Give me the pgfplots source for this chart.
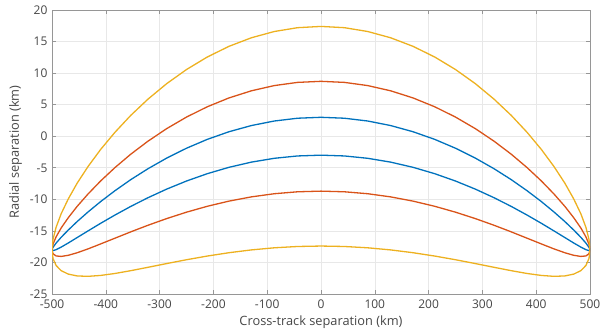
\documentclass[border=0pt]{standalone}
\usepackage{pgfplots}
\pgfplotsset{compat=1.18}
\usepackage{fontspec}
\setmainfont{Open Sans}
\definecolor{mblue}{rgb}{0,0.447,0.741}
\definecolor{morange}{rgb}{0.850,0.325,0.098}
\definecolor{myellow}{rgb}{0.929,0.694,0.125}
\definecolor{axgray}{RGB}{150,150,150}
\definecolor{gridgray}{RGB}{232,232,232}
\definecolor{txtgray}{RGB}{70,70,70}
\begin{document}
\begin{tikzpicture}
\begin{axis}[
  scale only axis,
  width=538pt, height=284pt,
  xmin=-500, xmax=500, ymin=-25, ymax=20,
  xtick={-500,-400,...,500},
  ytick={-25,-20,...,20},
  tick align=inside,
  major tick length=4pt,
  tick style={axgray, line width=0.6pt},
  axis line style={axgray, line width=0.8pt},
  grid=major,
  major grid style={gridgray, line width=0.6pt},
  /pgf/number format/assume math mode=true,
  tick label style={font=\fontsize{12}{14}\selectfont, text=txtgray},
  xticklabel style={yshift=-2pt},
  yticklabel style={xshift=-1pt},
  label style={font=\fontsize{12.8}{15}\selectfont, text=txtgray},
  xlabel={Cross-track separation (km)},
  ylabel={Radial separation (km)},
  xlabel style={yshift=-1pt},
  ylabel style={yshift=1pt},
  every axis plot/.append style={line width=1.3pt, line join=round},
]
\addplot[mblue] coordinates {
(-500,-18) (-498.1,-17.602) (-492.4,-16.936) (-483.0,-16.018) (-469.8,-14.868) (-453.2,-13.517) (-433.0,-12.0) (-409.6,-10.357) (-383.0,-8.635) (-353.6,-6.879) (-321.4,-5.139) (-286.8,-3.465) (-250,-1.902) (-211.3,-0.496) (-171.0,0.713) (-129.4,1.692) (-86.8,2.411) (-43.6,2.852) (0,3.0) (43.6,2.852) (86.8,2.411) (129.4,1.692) (171.0,0.713) (211.3,-0.496) (250,-1.902) (286.8,-3.465) (321.4,-5.139) (353.6,-6.879) (383.0,-8.635) (409.6,-10.357) (433.0,-12.0) (453.2,-13.517) (469.8,-14.868) (483.0,-16.018) (492.4,-16.936) (498.1,-17.602) (500,-18)
(498.1,-18.124) (492.4,-17.978) (483.0,-17.570) (469.8,-16.920) (453.2,-16.053) (433.0,-15.0) (409.6,-13.799) (383.0,-12.491) (353.6,-11.121) (321.4,-9.735) (286.8,-8.379) (250,-7.098) (211.3,-5.934) (171.0,-4.925) (129.4,-4.104) (86.8,-3.497) (43.6,-3.126) (0,-3.0) (-43.6,-3.126) (-86.8,-3.497) (-129.4,-4.104) (-171.0,-4.925) (-211.3,-5.934) (-250,-7.098) (-286.8,-8.379) (-321.4,-9.735) (-353.6,-11.121) (-383.0,-12.491) (-409.6,-13.799) (-433.0,-15.0) (-453.2,-16.053) (-469.8,-16.920) (-483.0,-17.570) (-492.4,-17.978) (-498.1,-18.124) (-500,-18)
};
\addplot[morange] coordinates {
(-500,-18) (-498.1,-17.105) (-492.4,-15.946) (-483.0,-14.542) (-469.8,-12.918) (-453.2,-11.108) (-433.0,-9.150) (-409.6,-7.088) (-383.0,-4.971) (-353.6,-2.848) (-321.4,-0.772) (-286.8,1.205) (-250,3.034) (-211.3,4.670) (-171.0,6.069) (-129.4,7.198) (-86.8,8.025) (-43.6,8.530) (0,8.7) (43.6,8.530) (86.8,8.025) (129.4,7.198) (171.0,6.069) (211.3,4.670) (250,3.034) (286.8,1.205) (321.4,-0.772) (353.6,-2.848) (383.0,-4.971) (409.6,-7.088) (433.0,-9.150) (453.2,-11.108) (469.8,-12.918) (483.0,-14.542) (492.4,-15.946) (498.1,-17.105) (500,-18)
(498.1,-18.621) (492.4,-18.968) (483.0,-19.046) (469.8,-18.870) (453.2,-18.462) (433.0,-17.850) (409.6,-17.068) (383.0,-16.155) (353.6,-15.152) (321.4,-14.102) (286.8,-13.049) (250,-12.034) (211.3,-11.100) (171.0,-10.281) (129.4,-9.610) (86.8,-9.111) (43.6,-8.804) (0,-8.7) (-43.6,-8.804) (-86.8,-9.111) (-129.4,-9.610) (-171.0,-10.281) (-211.3,-11.100) (-250,-12.034) (-286.8,-13.049) (-321.4,-14.102) (-353.6,-15.152) (-383.0,-16.155) (-409.6,-17.068) (-433.0,-17.850) (-453.2,-18.462) (-469.8,-18.870) (-483.0,-19.046) (-492.4,-18.968) (-498.1,-18.621) (-500,-18)
};
\addplot[myellow] coordinates {
(-500,-18) (-498.1,-16.346) (-492.4,-14.435) (-483.0,-12.291) (-469.8,-9.943) (-453.2,-7.431) (-433.0,-4.800) (-409.6,-2.098) (-383.0,0.622) (-353.6,3.304) (-321.4,5.892) (-286.8,8.331) (-250,10.569) (-211.3,12.555) (-171.0,14.245) (-129.4,15.601) (-86.8,16.593) (-43.6,17.197) (0,17.4) (43.6,17.197) (86.8,16.593) (129.4,15.601) (171.0,14.245) (211.3,12.555) (250,10.569) (286.8,8.331) (321.4,5.892) (353.6,3.304) (383.0,0.622) (409.6,-2.098) (433.0,-4.800) (453.2,-7.431) (469.8,-9.943) (483.0,-12.291) (492.4,-14.435) (498.1,-16.346) (500,-18)
(498.1,-19.380) (492.4,-20.479) (483.0,-21.297) (469.8,-21.845) (453.2,-22.139) (433.0,-22.200) (409.6,-22.058) (383.0,-21.748) (353.6,-21.304) (321.4,-20.766) (286.8,-20.175) (250,-19.569) (211.3,-18.985) (171.0,-18.457) (129.4,-18.013) (86.8,-17.679) (43.6,-17.471) (0,-17.4) (-43.6,-17.471) (-86.8,-17.679) (-129.4,-18.013) (-171.0,-18.457) (-211.3,-18.985) (-250,-19.569) (-286.8,-20.175) (-321.4,-20.766) (-353.6,-21.304) (-383.0,-21.748) (-409.6,-22.058) (-433.0,-22.200) (-453.2,-22.139) (-469.8,-21.845) (-483.0,-21.297) (-492.4,-20.479) (-498.1,-19.380) (-500,-18)
};
\end{axis}
\pgfresetboundingbox
\path ([xshift=-52pt,yshift=-41pt]current axis.south west) rectangle ([xshift=18pt,yshift=10pt]current axis.north east);
\end{tikzpicture}
\end{document}
